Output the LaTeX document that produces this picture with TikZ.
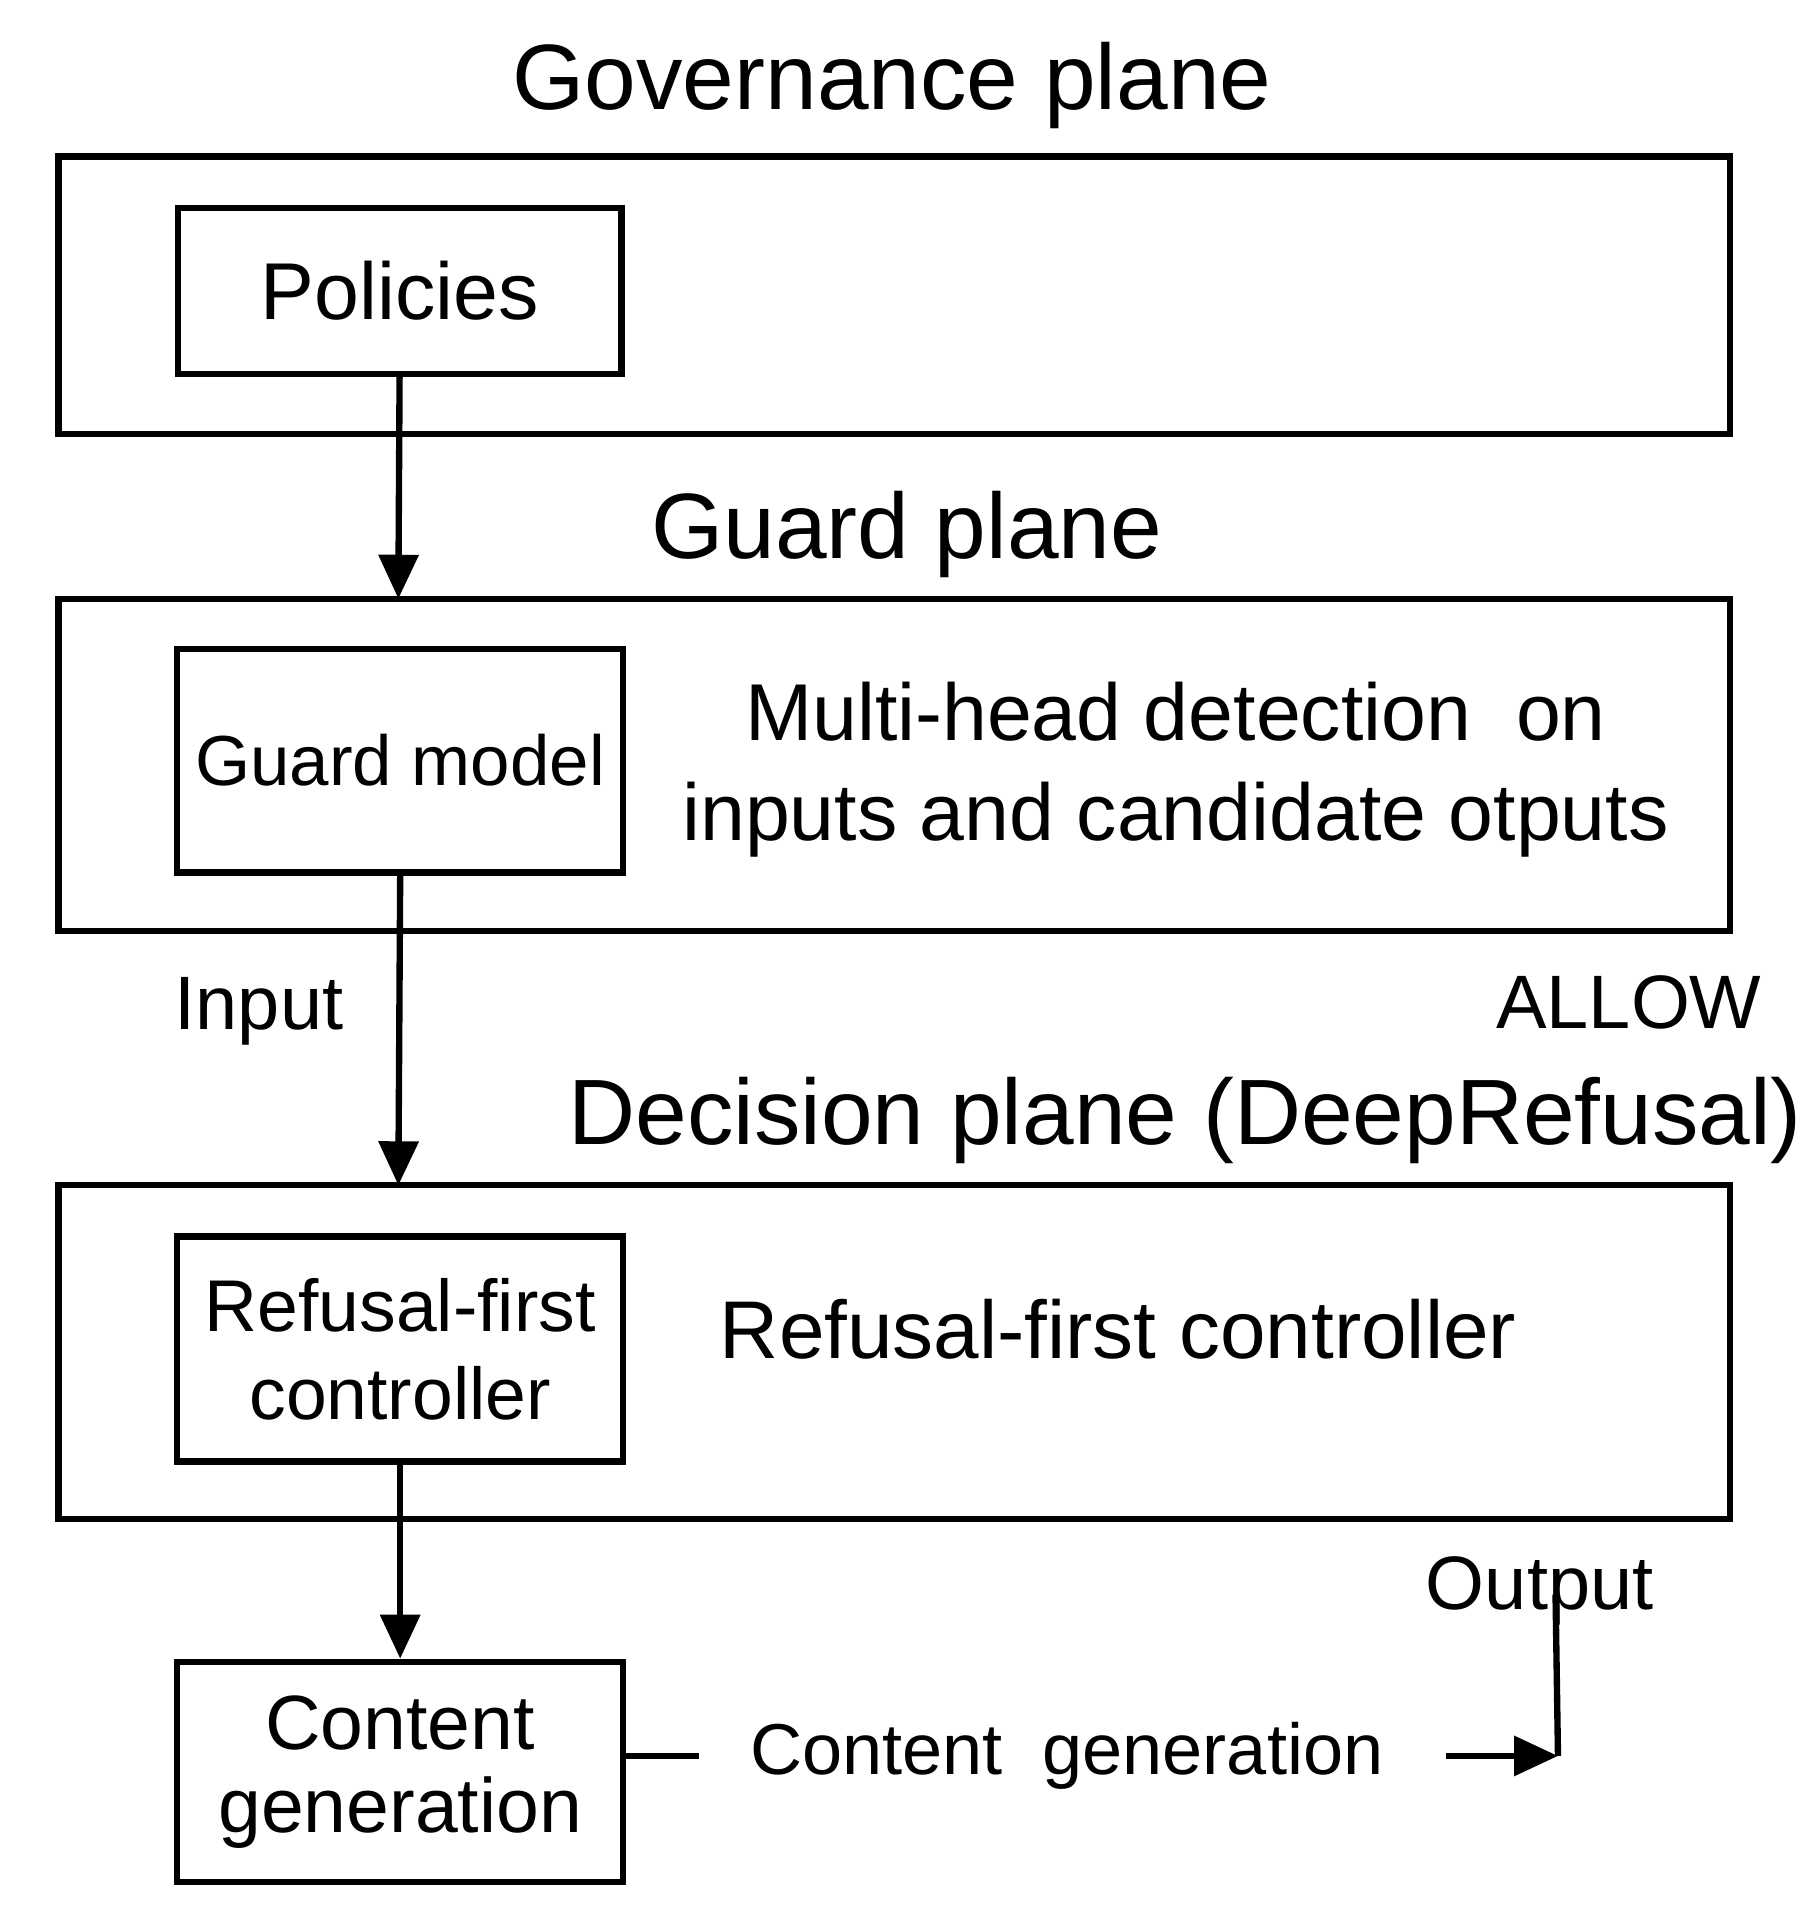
\documentclass[tikz,border=0pt]{standalone}
\usepackage{fontspec}
\setmainfont{Liberation Sans}
\usetikzlibrary{arrows.meta}
\begin{document}
\begin{tikzpicture}[x=0.5pt,y=-0.5pt,line width=2.6pt,
  box/.style={draw,rectangle,inner sep=0pt},
  big/.style={font=\fontsize{38}{44}\selectfont},
  mid/.style={font=\fontsize{33}{40}\selectfont,align=center},
  sm/.style={font=\fontsize{30}{40}\selectfont,align=center},
  arr/.style={-{Triangle[length=18pt,width=16pt]}}]
\useasboundingbox (0,0) rectangle (1486,1568);
% plane boxes
\draw (48,128) rectangle (1416,355);
\draw (48,490) rectangle (1416,762);
\draw (48,970) rectangle (1416,1243);
\coordinate (gtop) at (326,490);
\coordinate (dtop) at (326,970);
% titles
\node[big] (t1) at (730,70) {Governance plane};
\node[big] (t2) at (742,437) {Guard plane};
\node[big] (t3) at (970,917) {Decision plane (DeepRefusal)};
% inner boxes
\node[box,minimum width=181.5pt,minimum height=68pt,mid] (pol) at (327,238) {Policies};
\node[box,minimum width=182.5pt,minimum height=91.5pt,sm,font=\fontsize{29}{40}\selectfont] (gm) at (327.5,622.5) {Guard model};
\node[box,minimum width=182.5pt,minimum height=92pt,sm] (rf) at (327.5,1104) {Refusal-first\\[-4pt]controller};
\node[box,minimum width=182.5pt,minimum height=90pt,mid,font=\fontsize{31.5}{38}\selectfont] (cg) at (327.5,1450) {Content\\[-4pt]generation};
% texts
\node[sm,font=\fontsize{33}{41}\selectfont] (mh) at (962,630) {Multi-head detection\ \ on\\inputs and candidate otputs};
\node[sm,font=\fontsize{31}{41}\selectfont] (inp) at (212,828) {Input};
\node[sm,font=\fontsize{31}{41}\selectfont] (al) at (1333,820) {ALLOW};
\node[sm,font=\fontsize{33.5}{41}\selectfont] (rfc) at (915,1088) {Refusal-first controller};
\node[sm,font=\fontsize{29.5}{41}\selectfont] (cgt) at (873,1437) {Content\ \ generation};
\node[sm,font=\fontsize{31}{41}\selectfont] (out) at (1260,1302) {Output};
% connectors
\draw[arr] (pol.south) -- (gtop);
\draw[arr] (gm.south) -- (dtop);
\draw[arr] (rf.south) -- (cg.north);
\draw (cg.east |- 0,1437) -- (572,1437);
\coordinate (a1) at (1183,1437);
\coordinate (a2) at (1275,1437);
\coordinate (a3) at (1273,1305);
\draw[arr] (a1) -- (a2);
\draw (a2) -- (a3);
\end{tikzpicture}
\end{document}
